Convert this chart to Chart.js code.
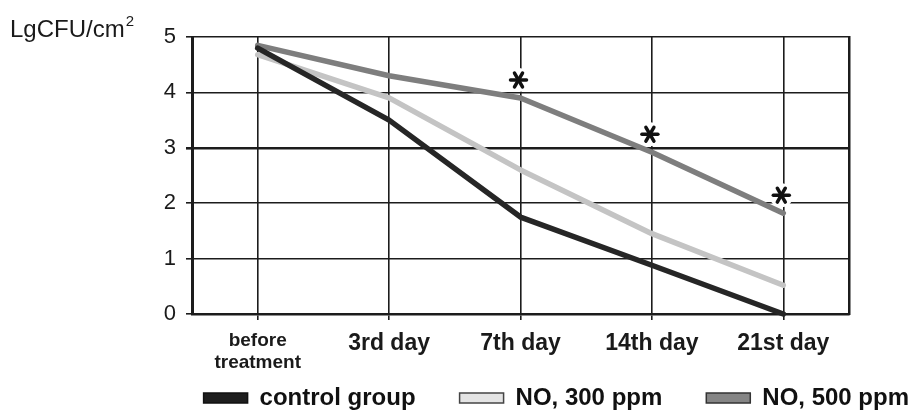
<!DOCTYPE html>
<html>
<head>
<meta charset="utf-8">
<script src="https://cdn.jsdelivr.net/npm/chart.js@4.4.1/dist/chart.umd.min.js"></script>
<style>
  html, body { margin: 0; padding: 0; background: #fff; }
  #wrap { width: 913px; height: 414px; }
</style>
</head>
<body>
<div id="wrap"><canvas id="chart" width="913" height="414"></canvas></div>
<script>
// --- data ---
const days = [["before", "treatment"], "3rd day", "7th day", "14th day", "21st day"];
const controlGroup = [4.8, 3.5, 1.75, 0.88, 0];
const no300 = [4.68, 3.9, 2.6, 1.45, 0.52];
const no500 = [4.85, 4.3, 3.9, 2.92, 1.82];
const yTicks = [0, 1, 2, 3, 4, 5];
const significantIdx = [2, 3, 4]; // asterisks over the NO 500 ppm series

const gridColor = '#1c1c1c';
const fontFamily = '"Liberation Sans", Arial, sans-serif';

// legend boxes (light one has a dark outline)
const legendStyle = [
  { fill: '#1e1e1e', stroke: '#111' },
  { fill: '#e4e4e4', stroke: '#444' },
  { fill: '#858585', stroke: '#333' }
];

// y axis caption in the top-left corner
const unitLabel = {
  id: 'unitLabel',
  afterDraw(chart) {
    const c = chart.ctx;
    c.save();
    c.fillStyle = '#1a1a1a';
    c.textBaseline = 'alphabetic';
    c.font = '24px ' + fontFamily;
    c.fillText('LgCFU/cm', 10, 37);
    const w = c.measureText('LgCFU/cm').width;
    c.font = '15px ' + fontFamily;
    c.fillText('2', 10 + w + 1, 26);
    c.restore();
  }
};

// significance asterisks above the NO 500 ppm points
const asterisks = {
  id: 'asterisks',
  afterDatasetsDraw(chart) {
    const meta = chart.getDatasetMeta(2);
    const c = chart.ctx;
    c.save();
    significantIdx.forEach(i => {
      const pt = meta.data[i];
      const x = pt.x - 2, y = pt.y - 18;
      c.fillStyle = '#fff';
      c.beginPath();
      c.arc(x, y, 12, 0, Math.PI * 2);
      c.fill();
      c.strokeStyle = '#111';
      c.lineWidth = 3.5;
      c.lineCap = 'round';
      for (let k = 0; k < 3; k++) {
        const a = k * Math.PI / 3;
        c.beginPath();
        c.moveTo(x - 8 * Math.cos(a), y - 8 * Math.sin(a));
        c.lineTo(x + 8 * Math.cos(a), y + 8 * Math.sin(a));
        c.stroke();
      }
    });
    c.restore();
  }
};

const ctx = document.getElementById('chart').getContext('2d');
new Chart(ctx, {
  type: 'line',
  data: {
    labels: days,
    datasets: [
      { label: 'control group', data: controlGroup, borderColor: '#262626', backgroundColor: '#262626' },
      { label: 'NO, 300 ppm', data: no300, borderColor: '#c4c4c4', backgroundColor: '#c4c4c4' },
      { label: 'NO, 500 ppm', data: no500, borderColor: '#7e7e7e', backgroundColor: '#7e7e7e' }
    ]
  },
  options: {
    responsive: false,
    devicePixelRatio: 1,
    animation: false,
    // negative right/bottom padding lets the legend run to the picture edge like the original
    layout: { padding: { top: 37, left: 0, right: -40, bottom: -6 } },
    elements: {
      line: { borderWidth: 5.5, tension: 0, borderJoinStyle: 'round', borderCapStyle: 'round' },
      point: { radius: 0, hoverRadius: 0 }
    },
    datasets: { line: { clip: false } },
    scales: {
      x: {
        type: 'category',
        offset: true,
        grid: { offset: false, color: gridColor, lineWidth: 1.6, tickLength: 6 },
        border: { color: gridColor, width: 2.5 },
        ticks: {
          color: '#1a1a1a',
          padding: 10,
          maxRotation: 0,
          autoSkip: false,
          font: (c) => c.index === 0
            ? { family: fontFamily, size: 19, weight: 'bold', lineHeight: 1.15 }
            : { family: fontFamily, size: 23, weight: 'bold' }
        },
        afterFit: (s) => {
          s.height = 28;
          s._computeLabelArea = () => undefined; // don't clip the two-line label
        }
      },
      y: {
        min: 0, max: 5,
        afterBuildTicks: (s) => { s.ticks = yTicks.map(v => ({ value: v })); },
        grid: {
          color: gridColor,
          lineWidth: (c) => c.tick && c.tick.value === 3 ? 2.6 : 1.6,
          tickLength: 6
        },
        border: { color: gridColor, width: 3 },
        ticks: {
          color: '#1a1a1a',
          padding: 10,
          font: { family: fontFamily, size: 22 }
        },
        afterFit: (s) => { s.width = 192; }
      },
      yR: {
        position: 'right',
        min: 0, max: 5,
        grid: { drawOnChartArea: false, drawTicks: false },
        border: { color: gridColor, width: 2.5 },
        ticks: { display: false },
        afterFit: (s) => { s.width = 104; }
      }
    },
    plugins: {
      tooltip: { enabled: false },
      legend: {
        position: 'bottom',
        align: 'end',
        labels: {
          color: '#111',
          boxWidth: 44,
          boxHeight: 10,
          padding: 44,
          font: { family: fontFamily, size: 24, weight: 'bold' },
          generateLabels: (chart) => chart.data.datasets.map((ds, i) => ({
            text: ds.label,
            fillStyle: legendStyle[i].fill,
            strokeStyle: legendStyle[i].stroke,
            lineWidth: 1.5,
            fontColor: '#111',
            hidden: false,
            datasetIndex: i
          }))
        }
      }
    }
  },
  plugins: [unitLabel, asterisks]
});
</script>
</body>
</html>
